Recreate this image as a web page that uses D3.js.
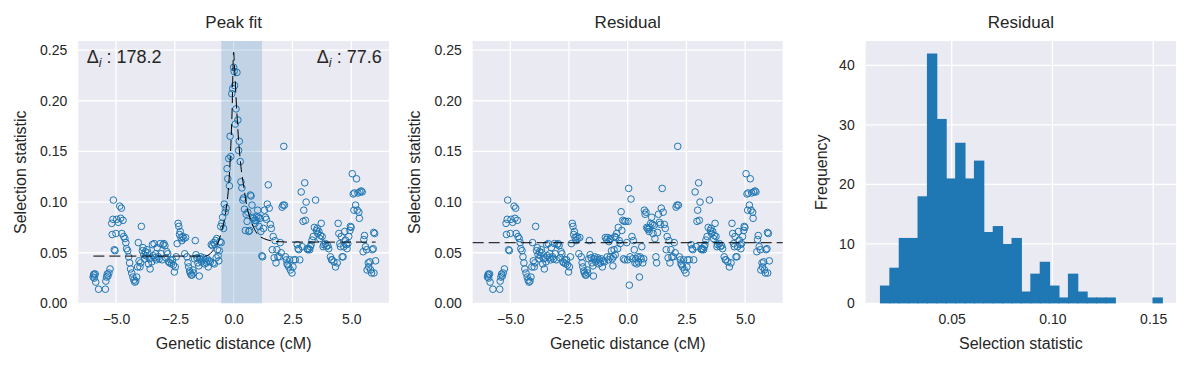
<!DOCTYPE html>
<html><head><meta charset="utf-8">
<script src="https://cdn.jsdelivr.net/npm/d3@7"></script>
<style>
body{margin:0;background:#fff;}
svg text{font-family:"Liberation Sans",Arial,sans-serif;fill:#262626;}
</style></head><body><svg id="chart" width="1191" height="368"></svg>
<script>
// ---------------- data ----------------
const distance = [
-5.97,-5.95,-5.93,-5.92,-5.88,-5.86,-5.74,-5.45,-5.43,-5.40,-5.37,-5.34,-5.30,-5.25,
-5.18,-5.16,-5.13,-5.11,-5.07,-5.04,-5.00,-4.97,-4.90,-4.84,-4.80,-4.77,-4.75,-4.70,-4.67,-4.62,-4.58,-4.55,
-4.50,-4.46,-4.42,-4.38,-4.33,-4.28,-4.24,-4.20,-4.16,-4.12,-4.08,-4.05,-4.02,-3.98,
-3.95,-3.92,-3.88,-3.85,-3.82,-3.78,-3.75,-3.72,-3.68,-3.65,-3.62,-3.58,-3.55,-3.52,-3.48,-3.45,-3.42,-3.38,-3.35,-3.32,-3.28,-3.25,-3.20,-3.16,-3.12,-3.08,-3.04,
-3.00,-2.96,-2.92,-2.88,-2.84,-2.80,-2.76,-2.72,-2.68,-2.64,-2.60,-2.56,-2.52,-2.48,-2.44,-2.40,-2.36,-2.33,-2.30,-2.27,-2.24,-2.20,-2.16,-2.12,-2.08,-2.04,
-1.98,-1.94,-1.91,-1.87,-1.84,-1.80,-1.77,-1.73,-1.70,-1.66,-1.63,-1.60,-1.56,-1.52,-1.48,-1.46,-1.44,-1.40,-1.36,-1.32,-1.28,-1.24,-1.20,-1.16,-1.12,-1.08,-1.04,
-0.99,-0.95,-0.90,-0.87,-0.85,-0.82,-0.80,-0.76,-0.74,-0.72,-0.69,-0.66,-0.63,-0.61,-0.58,-0.55,-0.53,-0.50,-0.47,-0.43,-0.40,-0.36,-0.32,-0.28,-0.25,-0.21,-0.18,-0.15,-0.12,-0.08,-0.04,
0.00,0.02,0.04,0.07,0.10,0.14,0.18,0.21,0.24,0.28,0.31,0.35,0.39,0.42,0.46,0.50,0.53,0.57,0.60,0.64,0.68,0.71,0.74,0.78,0.81,0.84,0.88,0.91,0.94,0.98,
1.02,1.05,1.08,1.12,1.16,1.20,1.23,1.27,1.31,1.35,1.39,1.43,1.47,1.51,1.56,1.60,1.64,1.68,1.72,1.76,1.80,1.84,1.88,
1.94,1.98,2.02,2.06,2.10,2.13,2.16,2.20,2.24,2.27,2.30,2.34,2.38,2.41,2.48,2.52,2.55,2.62,2.70,2.74,2.77,2.81,2.87,2.91,2.95,2.98,
3.02,3.05,3.08,3.12,3.15,3.19,3.23,3.26,3.29,3.33,3.38,3.43,3.48,3.52,3.55,3.57,3.62,3.66,3.69,3.72,3.76,3.80,3.83,3.90,3.94,
4.00,4.04,4.11,4.16,4.18,4.26,4.33,4.40,4.44,4.47,4.51,4.54,4.57,4.61,4.65,4.68,4.72,4.75,4.79,4.82,4.85,4.89,4.94,4.96,4.99,
5.04,5.08,5.11,5.13,5.18,5.22,5.25,5.28,5.32,5.34,5.36,5.42,5.46,5.50,5.53,5.56,5.60,5.65,5.67,5.72,5.74,5.79,5.82,5.86,5.89,5.93,5.95,5.96,5.99,6.03
];
const statistic = [
0.026,0.028,0.029,0.025,0.029,0.021,0.014,0.014,0.022,0.026,0.029,0.027,0.030,0.034,
0.079,0.068,0.083,0.102,0.053,0.052,0.069,0.083,0.080,0.096,0.084,0.094,0.069,0.082,0.066,0.064,0.060,0.054,
0.052,0.046,0.040,0.034,0.030,0.026,0.023,0.021,0.022,0.026,0.036,0.060,0.042,0.036,
0.040,0.076,0.052,0.055,0.048,0.044,0.051,0.047,0.053,0.050,0.039,0.044,0.034,0.045,0.041,0.058,0.047,0.059,0.045,0.049,0.043,0.055,0.046,0.044,0.059,0.049,0.043,
0.058,0.059,0.057,0.045,0.051,0.049,0.041,0.040,0.043,0.039,0.043,0.038,0.031,0.036,0.046,0.059,0.079,0.076,0.068,0.071,0.065,0.062,0.066,0.064,0.049,0.065,
0.046,0.040,0.036,0.032,0.030,0.028,0.028,0.033,0.030,0.044,0.062,0.048,0.045,0.040,0.037,0.027,0.044,0.046,0.041,0.043,0.045,0.039,0.043,0.040,0.044,0.036,0.042,
0.041,0.058,0.057,0.040,0.060,0.039,0.058,0.062,0.045,0.064,0.053,0.047,0.042,0.052,0.061,0.076,0.060,0.079,0.085,0.074,0.098,0.090,0.094,0.133,0.123,0.143,0.116,0.165,0.145,0.207,0.212,
0.233,0.229,0.215,0.177,0.192,0.228,0.181,0.151,0.160,0.140,0.120,0.114,0.102,0.104,0.093,0.072,0.088,0.081,0.090,0.071,0.072,0.107,0.106,0.097,0.085,0.084,0.082,0.079,0.082,0.086,
0.092,0.085,0.076,0.084,0.071,0.047,0.046,0.074,0.092,0.085,0.083,0.098,0.117,0.094,0.078,0.074,0.053,0.066,0.045,0.062,0.040,0.053,0.046,
0.046,0.060,0.050,0.095,0.097,0.155,0.097,0.046,0.043,0.039,0.038,0.036,0.043,0.033,0.030,0.036,0.043,0.043,0.058,0.054,0.053,0.043,0.110,0.056,0.081,0.092,
0.119,0.082,0.100,0.054,0.053,0.054,0.053,0.056,0.058,0.0625,0.066,0.075,0.102,0.072,0.074,0.069,0.071,0.064,0.067,0.079,0.066,0.056,0.058,0.059,0.056,
0.057,0.054,0.046,0.043,0.043,0.041,0.036,0.040,0.079,0.069,0.059,0.056,0.066,0.046,0.046,0.056,0.071,0.0625,0.058,0.054,0.059,0.066,0.072,0.076,0.075,
0.128,0.108,0.092,0.109,0.097,0.123,0.092,0.109,0.090,0.084,0.110,0.111,0.110,0.051,0.063,0.067,0.056,0.053,0.033,0.040,0.036,0.041,0.033,0.030,0.053,0.054,0.070,0.030,0.069,0.042
];
const residual = [
0.026,0.028,0.029,0.025,0.029,0.021,0.014,0.014,0.022,0.026,0.029,0.027,0.030,0.034,
0.079,0.068,0.083,0.102,0.053,0.052,0.069,0.083,0.080,0.096,0.084,0.094,0.069,0.082,0.066,0.064,0.060,0.054,
0.052,0.046,0.040,0.034,0.030,0.026,0.023,0.021,0.022,0.026,0.036,0.060,0.042,0.036,
0.040,0.076,0.052,0.055,0.048,0.044,0.051,0.047,0.053,0.050,0.039,0.044,0.034,0.045,0.041,0.058,0.047,0.059,0.045,0.049,0.043,0.055,0.046,0.044,0.059,0.049,0.043,
0.058,0.059,0.057,0.045,0.051,0.049,0.041,0.040,0.043,0.039,0.043,0.038,0.031,0.036,0.046,0.059,0.079,0.076,0.068,0.071,0.065,0.062,0.066,0.064,0.049,0.065,
0.046,0.040,0.036,0.032,0.030,0.028,0.028,0.033,0.030,0.044,0.062,0.048,0.045,0.040,0.037,0.027,0.044,0.046,0.041,0.043,0.045,0.039,0.043,0.040,0.044,0.036,0.042,
0.041,0.065,0.063,0.046,0.065,0.043,0.061,0.063,0.046,0.064,0.052,0.044,0.037,0.046,0.053,0.066,0.048,0.065,0.069,0.054,0.075,0.062,0.059,0.0905,0.072,0.082,0.044,0.081,0.043,0.081,0.060,
0.043,0.081,0.1135,0.018,0.046,0.103,0.066,0.044,0.062,0.053,0.040,0.044,0.039,0.046,0.041,0.026,0.046,0.044,0.056,0.040,0.044,0.092,0.088,0.090,0.075,0.074,0.073,0.071,0.075,0.079,
0.085,0.078,0.069,0.077,0.064,0.046,0.040,0.070,0.088,0.080,0.078,0.094,0.1135,0.090,0.078,0.074,0.053,0.066,0.045,0.062,0.040,0.053,0.046,
0.046,0.060,0.050,0.095,0.097,0.155,0.097,0.046,0.043,0.039,0.038,0.036,0.043,0.033,0.030,0.036,0.043,0.043,0.058,0.054,0.053,0.043,0.110,0.056,0.081,0.092,
0.119,0.082,0.100,0.054,0.053,0.054,0.053,0.056,0.058,0.0625,0.066,0.075,0.102,0.072,0.074,0.069,0.071,0.064,0.067,0.079,0.066,0.056,0.058,0.059,0.056,
0.057,0.054,0.046,0.043,0.043,0.041,0.036,0.040,0.079,0.069,0.059,0.056,0.066,0.046,0.046,0.056,0.071,0.0625,0.058,0.054,0.059,0.066,0.072,0.076,0.075,
0.128,0.108,0.092,0.109,0.097,0.123,0.092,0.109,0.090,0.084,0.110,0.111,0.110,0.051,0.063,0.067,0.056,0.053,0.033,0.040,0.036,0.041,0.033,0.030,0.053,0.054,0.070,0.030,0.069,0.042
];
// fitted peak curve
const fitX = [-5.96,-2.0,-1.2,-1.0,-0.85,-0.7,-0.6,-0.5,-0.4,-0.3,-0.2,-0.14,-0.07,0.0,0.03,0.1,0.21,0.31,0.43,0.57,0.78,0.99,1.28,1.56,1.84,2.5,6.03];
const fitY = [0.0467,0.0467,0.0468,0.049,0.053,0.058,0.064,0.072,0.082,0.096,0.120,0.145,0.187,0.248,0.237,0.204,0.161,0.135,0.115,0.095,0.079,0.069,0.064,0.062,0.061,0.0605,0.0605];
const peakSpan = [-0.525, 1.206];
const deltaLeft = "178.2", deltaRight = "77.6";
const residualMean = 0.0599;
// histogram of residuals
const histRange = [0.0144, 0.1543];
const histCounts = [3,6,11,11,18,42,31,21,27,21,24,12,13,10,11,2,5,7,3,1,5,2,1,1,1,0,0,0,0,1];
const distTicks = [-5, -2.5, 0, 2.5, 5];
const statTicks = [0, 0.05, 0.10, 0.15, 0.20, 0.25];
const histXTicks = [0.05, 0.10, 0.15];
const histYTicks = [0, 10, 20, 30, 40];
const titles = ["Peak fit", "Residual", "Residual"];

// ---------------- layout ----------------
const C0 = "#1f77b4", BG = "#eaeaf2";
const topY = 41, botY = 303.4;
const frames = [[78.3, 389], [472.7, 782.7], [865.7, 1176]];
const TICK = 14, LABEL = 16, TITLE = 17;
const svg = d3.select("#chart");

const y = d3.scaleLinear().domain([0, 0.259]).range([botY, topY]);

function frame(i) {
  const [l, r] = frames[i];
  const g = svg.append("g");
  g.append("rect").attr("x", l).attr("y", topY).attr("width", r - l).attr("height", botY - topY).attr("fill", BG);
  return g;
}
function grid(g, xs, xt, ys, yt, i) {
  const [l, r] = frames[i];
  g.selectAll(null).data(xt).join("line")
    .attr("x1", d => xs(d)).attr("x2", d => xs(d)).attr("y1", topY).attr("y2", botY)
    .attr("stroke", "#fff").attr("stroke-width", 1.3);
  g.selectAll(null).data(yt).join("line")
    .attr("x1", l).attr("x2", r).attr("y1", d => ys(d)).attr("y2", d => ys(d))
    .attr("stroke", "#fff").attr("stroke-width", 1.3);
}
function axes(xs, xt, xf, ys, yt, yf) {
  const ax = svg.append("g").attr("transform", `translate(0,${botY})`)
    .call(d3.axisBottom(xs).tickValues(xt).tickFormat(xf).tickSize(0).tickPadding(11));
  ax.select(".domain").remove();
  ax.selectAll("text").attr("font-size", TICK).attr("fill", "#262626").style("font-family", '"Liberation Sans",Arial,sans-serif');
  const ay = svg.append("g").attr("transform", `translate(${xs.range()[0]},0)`)
    .call(d3.axisLeft(ys).tickValues(yt).tickFormat(yf).tickSize(0).tickPadding(11));
  ay.select(".domain").remove();
  ay.selectAll("text").attr("font-size", TICK).attr("fill", "#262626").style("font-family", '"Liberation Sans",Arial,sans-serif');
}
function labels(i, title, xl, yl, ylx) {
  const [l, r] = frames[i];
  const cx = (l + r) / 2;
  svg.append("text").attr("x", cx).attr("y", 28).attr("text-anchor", "middle").attr("font-size", TITLE).text(title);
  svg.append("text").attr("x", cx).attr("y", 349).attr("text-anchor", "middle").attr("font-size", LABEL).text(xl);
  svg.append("text").attr("transform", `translate(${ylx},${(topY + botY) / 2}) rotate(-90)`)
    .attr("text-anchor", "middle").attr("font-size", LABEL).text(yl);
}

const pts = distance.map((d, i) => ({ d, s: statistic[i], r: residual[i] }));
const R = 3.3;

// ---------- panel 1: peak fit ----------
{
  const x = d3.scaleLinear().domain([-6.6, 6.6]).range(frames[0]);
  const g = frame(0);
  grid(g, x, distTicks, y, statTicks, 0);
  g.append("rect").attr("x", x(peakSpan[0])).attr("width", x(peakSpan[1]) - x(peakSpan[0]))
    .attr("y", topY).attr("height", botY - topY).attr("fill", C0).attr("fill-opacity", 0.2);
  g.selectAll(null).data(pts).join("circle")
    .attr("cx", p => x(p.d)).attr("cy", p => y(p.s)).attr("r", R)
    .attr("fill", "none").attr("stroke", C0).attr("stroke-width", 1);
  const line = d3.line().x(d => x(d[0])).y(d => y(d[1])).curve(d3.curveMonotoneX);
  g.append("path").attr("d", line(fitX.map((v, i) => [v, fitY[i]])))
    .attr("fill", "none").attr("stroke", "#000").attr("stroke-width", 1).attr("stroke-dasharray", "11,5");
  const t1 = g.append("text").attr("x", frames[0][0] + 8.4).attr("y", 63).attr("font-size", 18);
  t1.append("tspan").text("Δ");
  t1.append("tspan").attr("font-style", "italic").attr("font-size", 12.5).attr("dy", 4).text("i");
  t1.append("tspan").attr("dy", -4).text(" : " + deltaLeft);
  const t2 = g.append("text").attr("x", frames[0][1] - 7.3).attr("y", 63).attr("font-size", 18).attr("text-anchor", "end");
  t2.append("tspan").text("Δ");
  t2.append("tspan").attr("font-style", "italic").attr("font-size", 12.5).attr("dy", 4).text("i");
  t2.append("tspan").attr("dy", -4).text(" : " + deltaRight);
  axes(x, distTicks, d3.format(".1f"), y, statTicks, d3.format(".2f"));
  labels(0, titles[0], "Genetic distance (cM)", "Selection statistic", 26);
}

// ---------- panel 2: residual ----------
{
  const x = d3.scaleLinear().domain([-6.6, 6.6]).range(frames[1]);
  const g = frame(1);
  grid(g, x, distTicks, y, statTicks, 1);
  g.selectAll(null).data(pts).join("circle")
    .attr("cx", p => x(p.d)).attr("cy", p => y(p.r)).attr("r", R)
    .attr("fill", "none").attr("stroke", C0).attr("stroke-width", 1);
  g.append("line").attr("x1", frames[1][0]).attr("x2", frames[1][1])
    .attr("y1", y(residualMean)).attr("y2", y(residualMean))
    .attr("stroke", "#000").attr("stroke-width", 1).attr("stroke-dasharray", "11,5");
  axes(x, distTicks, d3.format(".1f"), y, statTicks, d3.format(".2f"));
  labels(1, titles[1], "Genetic distance (cM)", "Selection statistic", 420);
}

// ---------- panel 3: histogram ----------
{
  const x = d3.scaleLinear().domain([0.00734, 0.1613]).range(frames[2]);
  const yh = d3.scaleLinear().domain([0, 44.1]).range([botY, topY]);
  const g = frame(2);
  grid(g, x, histXTicks, yh, histYTicks, 2);
  const w = (histRange[1] - histRange[0]) / histCounts.length;
  const bins = histCounts.map((c, i) => ({ x0: histRange[0] + i * w, x1: histRange[0] + (i + 1) * w, c }));
  g.selectAll(null).data(bins.filter(b => b.c > 0)).join("rect")
    .attr("x", b => x(b.x0)).attr("width", (b, i, arr) => x(b.x1) - x(b.x0) + 1)
    .attr("y", b => yh(b.c)).attr("height", b => botY - yh(b.c)).attr("fill", C0);
  axes(x, histXTicks, d3.format(".2f"), yh, histYTicks, d3.format("d"));
  labels(2, titles[2], "Selection statistic", "Frequency", 827);
}
</script></body></html>
